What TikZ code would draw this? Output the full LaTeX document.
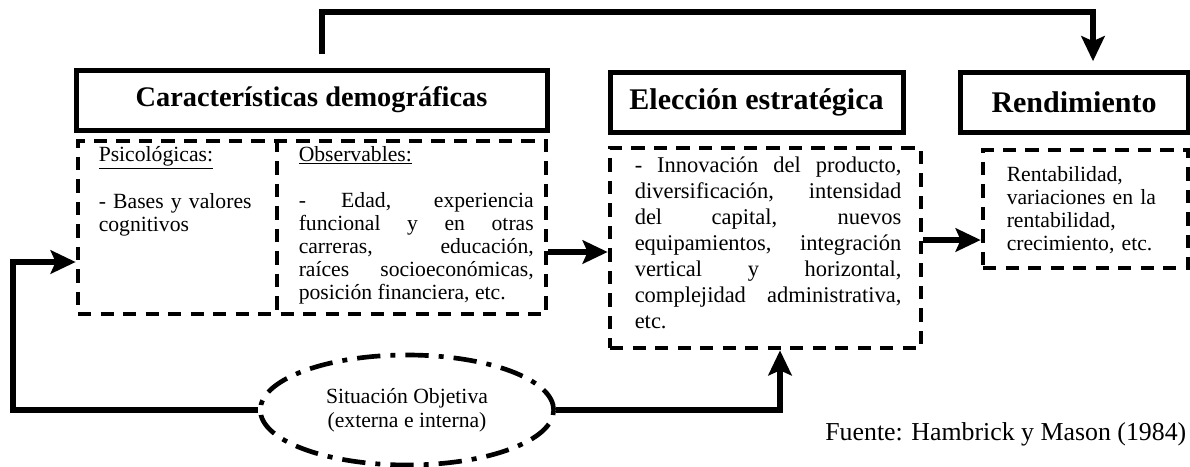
\documentclass[tikz,border=0pt]{standalone}
\usepackage{fontspec}
\setmainfont{Liberation Serif}
\usetikzlibrary{arrows.meta}
\usetikzlibrary{fit}
\usetikzlibrary{positioning}
\usetikzlibrary{shapes.geometric}

\begin{document}
\begin{tikzpicture}[
            x = 0.6pt, y = -0.6pt, % one unit = one pixel of the scan
            > = {Stealth[length=15pt, width=14pt, inset=3pt]}, % arrow head style
            line width = 3.3pt
        ]

        \tikzstyle{head}=[
            draw,
            line width = 3pt,
            inner sep = 0pt,
            minimum height = 36pt,
            font = \bfseries\fontsize{18}{20}\selectfont
        ]
        \tikzstyle{dashbox}=[draw, line width = 2.8pt, dash pattern = on 8pt off 5.5pt, inner sep = 0pt]
        \tikzstyle{body}=[inner sep = 0pt, anchor = base west, font = \fontsize{13}{13.8}\selectfont]
        \tikzstyle{link}=[->, line width = 3.3pt]

        \useasboundingbox (0,0) rectangle (1190,466);

	% headings
        \node[head, minimum width = 282.6pt, font = \bfseries\fontsize{17}{19}\selectfont] (CD) at (311.5,100) {Características demográficas};
        \node[head, minimum width = 175.8pt] (EE) at (756.5,102) {Elección estratégica};
        \node[head, minimum width = 136.8pt] (RE) at (1074,102) {Rendimiento};

        % dashed boxes
        \node[dashbox, fit = {(78,141) (546,314)}] (CDo) {};
        \node[dashbox, fit = {(610,148) (921,348)}] (EEo) {};
        \node[dashbox, fit = {(983,150) (1188,268)}] (REo) {};
        \coordinate (split) at (277,0);
        \draw[line width = 2.8pt, dash pattern = on 8pt off 5.5pt] (CDo.north -| split) -- (CDo.south -| split);

        % texts
        \node[body, text width = 108pt, align = left] (PStxt) at (96,161)
            {\underline{Psicológicas:}\\[13.8pt]
             - Bases y valores\\ cognitivos};
        \node[body, text width = 141pt, align = justify] (OBtxt) at (296,161)
            {\underline{Observables:}\\[13.8pt]
             - Edad, experiencia\linebreak
             funcional y en otras\linebreak
             carreras, educación,\linebreak
             raíces socioeconómicas,\linebreak
             posición financiera, etc.};
        \node[body, text width = 160pt, align = justify, font = \fontsize{13.5}{15.6}\selectfont] (EEtxt) at (632,172)
            {- Innovación del producto,\linebreak
             diversificación, intensidad\linebreak
             del capital, nuevos\linebreak
             equipamientos, integración\linebreak
             vertical y horizontal,\linebreak
             complejidad administrativa,\linebreak
             etc.};
        \node[body, text width = 110pt, align = left] (REtxt) at (1004,181)
            {Rentabilidad,\\ variaciones en la\\ rentabilidad,\\ crecimiento, etc.};

        % situation
        \node[ellipse, draw, line width = 2.8pt, dash pattern = on 14pt off 6pt on 3pt off 6pt,
              minimum width = 176pt, minimum height = 66pt, align = center,
              font = \fontsize{13}{14.5}\selectfont] (SO) at (407,410)
            {Situación Objetiva\\ (externa e interna)};

        \node[body, anchor = base east, font = \fontsize{15.5}{18}\selectfont] (src) at (1189,440) {Fuente: Hambrick y Mason (1984)};

        % connectors
        \coordinate (top) at (322,54);
        \coordinate (bend) at (1093,12);
        \coordinate (fb) at (13,410);
        \coordinate (in1) at (0,262);
        \coordinate (up) at (780,0);
        \coordinate (a1) at (0,252);
        \coordinate (a2) at (0,240);

        \draw[link] (CDo.east |- a1) -- (EEo.west |- a1);
        \draw[link] (EEo.east |- a2) -- (REo.west |- a2);
        \draw[link, shorten > = 5pt] (top) |- (bend) -- (bend |- RE.north);
        \draw[link] (SO.west) -- (fb) |- (CDo.west |- in1);
        \draw[link] (SO.east) -| (EEo.south -| up);

  \end{tikzpicture}
\end{document}
